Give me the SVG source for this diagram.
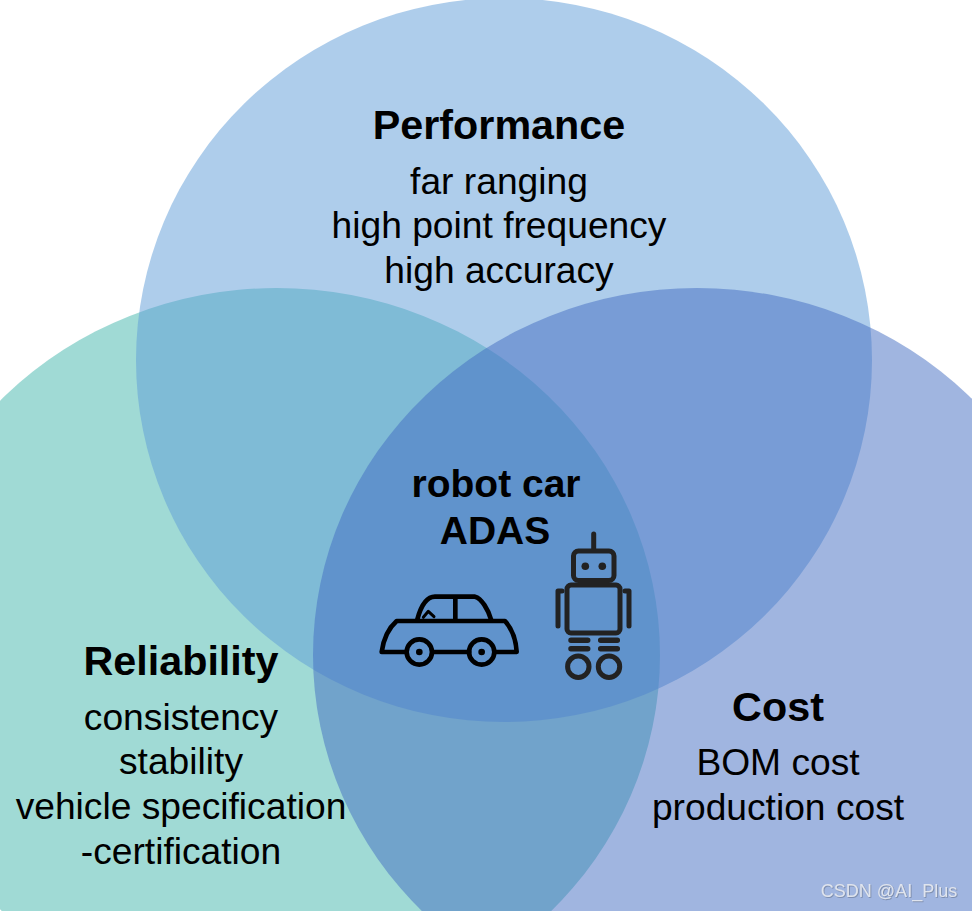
<svg xmlns="http://www.w3.org/2000/svg" width="972" height="911" viewBox="0 0 972 911">
<style>
text{font-family:"Liberation Sans",Arial,sans-serif;text-anchor:middle;fill:#000}
.h{font-size:41.3px;font-weight:700}
.b{font-size:37.2px}
.c{font-size:39px;font-weight:700}
.ic{fill:none;stroke-linecap:round;stroke-linejoin:round}
</style>
<defs><filter id="emb" x="-5%" y="-20%" width="110%" height="140%"><feDropShadow dx=".8" dy=".8" stdDeviation=".4" flood-color="#6f7f9c" flood-opacity=".9"/></filter></defs>
<rect width="972" height="911" fill="#fff"/>
<g id="reliability-set"><ellipse cx="276.500" cy="655" rx="383.500" ry="367" fill="#41b5ab" fill-opacity=".5"/></g>
<g id="performance-set"><ellipse cx="504" cy="360" rx="368" ry="362" fill="#5d9bd7" fill-opacity=".5"/></g>
<g id="cost-set"><ellipse cx="697" cy="655" rx="384" ry="367" fill="#416bc1" fill-opacity=".5"/></g>
<g id="performance"><text class="h" x="499" y="139">Performance</text>
<text class="b" x="499" y="194">far ranging</text>
<text class="b" x="499" y="238">high point frequency</text>
<text class="b" x="499" y="283">high accuracy</text></g>
<g id="reliability"><text class="h" x="181" y="675">Reliability</text>
<text class="b" x="181" y="730">consistency</text>
<text class="b" x="181" y="774">stability</text>
<text class="b" x="181" y="819">vehicle specification</text>
<text class="b" x="181" y="864">-certification</text></g>
<g id="cost"><text class="h" x="778" y="721">Cost</text>
<text class="b" x="778" y="775">BOM cost</text>
<text class="b" x="778" y="820">production cost</text></g>
<g id="center"><text class="c" x="496" y="497">robot car</text>
<text class="c" x="495" y="544">ADAS</text></g>
<g id="car" transform="translate(360 520) scale(.3333)" class="ic" stroke="#000" stroke-width="14">
<path d="M140 396H65C70 360 85 325 110 303H435C455 325 468 360 470 396H408M218 396H328"/>
<path d="M172 298C185 250 205 230 225 230H345C365 235 385 270 393 298M286 230V300"/>
<path d="M190 292L205 274L222 290" stroke-width="9"/>
<circle cx="178" cy="396" r="38"/><circle cx="365" cy="396" r="38"/>
<circle cx="178" cy="396" r="10" fill="#000" stroke="none"/><circle cx="365" cy="396" r="10" fill="#000" stroke="none"/>
</g>
<g id="robot" class="ic" stroke="#222" stroke-width="5">
<path d="M593.700 534V550"/>
<rect x="573.500" y="551" width="40.500" height="29.500" rx="5"/>
<circle cx="585.300" cy="566.300" r="3.800" fill="#222" stroke="none"/><circle cx="602.300" cy="566.300" r="3.800" fill="#222" stroke="none"/>
<rect x="567" y="585" width="53" height="48" rx="4"/>
<path d="M562 591H558V626M625 591H629V626"/>
<path d="M571 640.300H587.700M571 648.700H587.700M600.700 640.300H617.300M600.700 648.700H617.300" stroke-width="5.500"/>
<circle cx="578.300" cy="666.700" r="10.700"/><circle cx="609" cy="666.700" r="10.700"/>
</g>
<g id="watermark"><text x="889" y="897" font-size="18" filter="url(#emb)" style="fill:#dfe4ee">CSDN @AI_Plus</text></g>
</svg>
